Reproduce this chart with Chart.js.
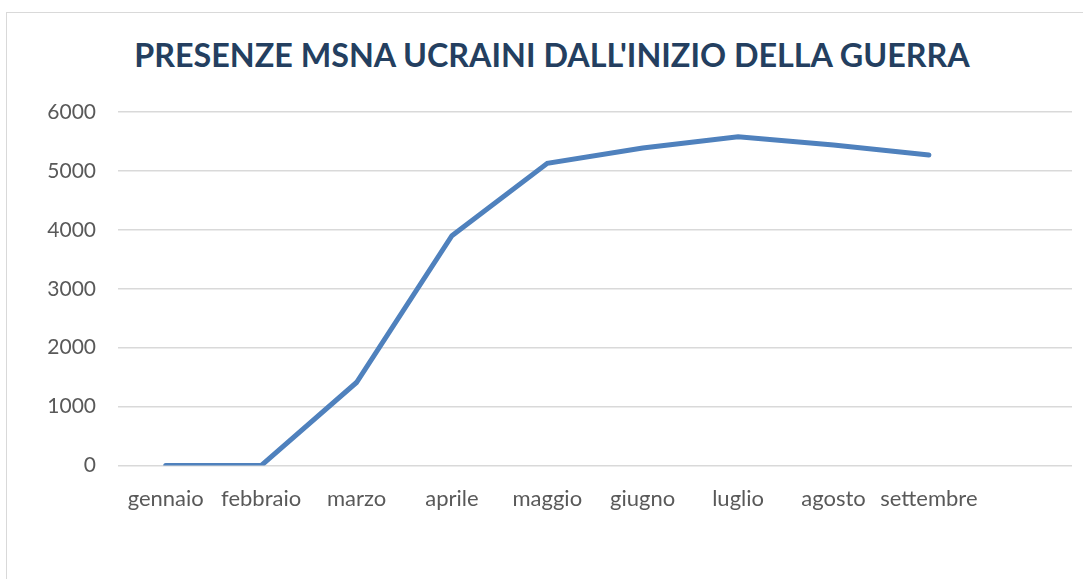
<!DOCTYPE html>
<html>
<head>
<meta charset="utf-8">
<script src="https://cdn.jsdelivr.net/npm/chart.js@4"></script>
<style>
  html, body { margin: 0; padding: 0; background: #fff; }
  #box { position: absolute; left: 0; top: 0; width: 1083px; height: 579px; overflow: hidden; }
  #cornice { position: absolute; left: 6px; top: 12px; width: 1100px; height: 600px; border: 1px solid #d9d9d9; }
  #titolo { position: absolute; left: 0; top: 35px; width: 1104px; text-align: center;
            font: bold 32.3px Lato, sans-serif; color: #243f60; line-height: 40px; }
  canvas { position: absolute; left: 0; top: 0; }
</style>
</head>
<body>
<div id="box">
  <div id="cornice"></div>
  <div id="titolo">PRESENZE MSNA UCRAINI DALL'INIZIO DELLA GUERRA</div>
  <canvas id="grafico" width="1083" height="579"></canvas>
</div>
<script>
// dati
const mesi = ["gennaio", "febbraio", "marzo", "aprile", "maggio", "giugno", "luglio", "agosto", "settembre", ""];
const presenze = [0, 0, 1410, 3900, 5130, 5390, 5580, 5440, 5270, null];
const tickY = [0, 1000, 2000, 3000, 4000, 5000, 6000];

const ctx = document.getElementById("grafico").getContext("2d");

new Chart(ctx, {
  type: "line",
  data: {
    labels: mesi,
    datasets: [{
      label: "Presenze",
      data: presenze,
      borderColor: "#4f81bd",
      borderWidth: 5,
      pointRadius: 0,
      tension: 0,
      fill: false,
      borderCapStyle: "round"
    }]
  },
  options: {
    responsive: false,
    animation: false,
    layout: { padding: { left: 0, right: 11, top: 112, bottom: 47 } },
    plugins: {
      legend: { display: false },
      tooltip: { enabled: false },
      title: { display: false }
    },
    scales: {
      x: {
        offset: true,
        grid: { display: false, drawTicks: false },
        border: { display: false },
        ticks: {
          color: "#595959",
          font: { family: "Lato", size: 22 },
          padding: 20,
          maxRotation: 0,
          autoSkip: false
        }
      },
      y: {
        min: 0,
        max: 6000,
        afterFit: s => { s.width = 118; },
        afterBuildTicks: s => { s.ticks = tickY.map(v => ({ value: v })); },
        grid: { color: "#d9d9d9", lineWidth: 1.5, drawTicks: false },
        border: { display: false },
        ticks: {
          color: "#595959",
          font: { family: "Lato", size: 21 },
          padding: 22,
          callback: v => String(v)
        }
      }
    }
  }
});
</script>
</body>
</html>
